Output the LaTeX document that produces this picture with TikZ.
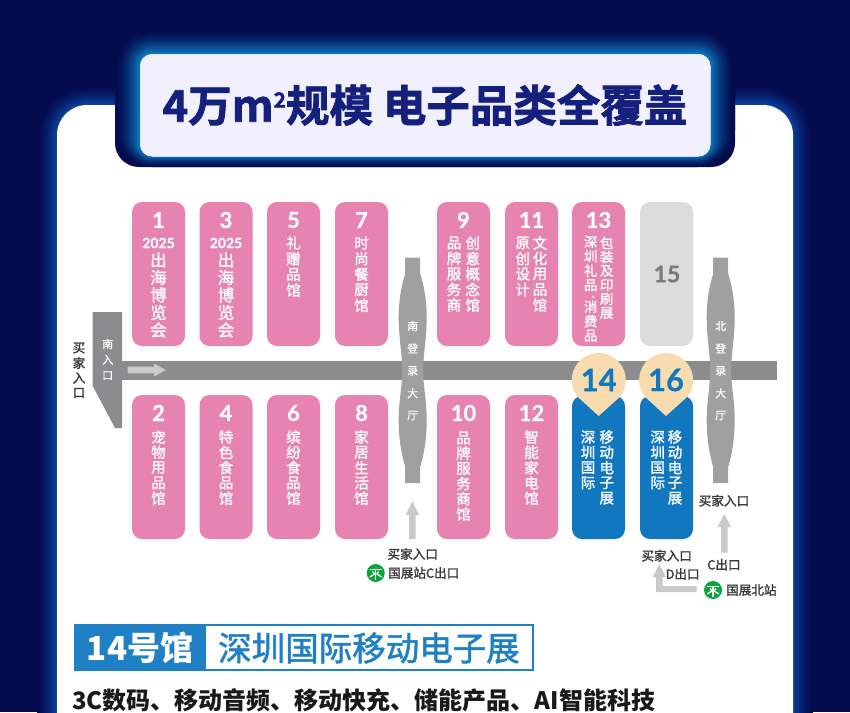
\documentclass[tikz,border=0pt]{standalone}
\usepackage{fontspec}
\setmainfont{Lato}
\newfontfamily\cjk{Noto Sans CJK SC}
\newfontfamily\cjkm[FakeBold=1.6]{Noto Sans CJK SC}
\newfontfamily\cjkl[FakeBold=0.8]{Noto Sans CJK SC}
\newfontfamily\cjkb[FakeBold=1.8]{Noto Sans CJK SC Bold}
\newfontfamily\lat{Lato Bold}[FakeBold=0.4]
\definecolor{bgnavy}{HTML}{040B4E}
\definecolor{glowb}{HTML}{0A3F9C}
\definecolor{glowc}{HTML}{0A78BE}
\definecolor{lightbox}{HTML}{F1F0FC}
\definecolor{titlec}{HTML}{14207C}
\definecolor{pinkh}{HTML}{E683B0}
\definecolor{blueh}{HTML}{1177BF}
\definecolor{greyh}{HTML}{DCDCDC}
\definecolor{corr}{HTML}{8C8C8E}
\definecolor{lobby}{HTML}{A0A0A0}
\definecolor{arr}{HTML}{C9CACA}
\definecolor{wheat}{HTML}{F8DCB0}
\definecolor{banner}{HTML}{2080C6}
\definecolor{txt}{HTML}{3A3A3A}
\definecolor{metro}{HTML}{0AA53C}
\newcommand{\fs}[1]{\fontsize{#1}{#1}\selectfont}
\tikzset{
  hall/.style={rounded corners=10pt,draw=none},
  num/.style={text=white,font=\fs{22}\lat,inner sep=0pt},
  ch/.style={text=white,font=\fs{14.5}\cjkm,inner sep=0pt},
  chb/.style={text=white,font=\fs{16.5}\cjkm,inner sep=0pt},
  chs/.style={text=white,font=\fs{13.5}\cjkm,inner sep=0pt},
  lob/.style={text=white,font=\fs{11}\cjkl,inner sep=0pt},
  lab/.style={text=txt,font=\fs{12.6}\cjkm,inner sep=0pt},
}
% vertical run of characters: x, first y, step, style, name, list
\newcommand{\vrun}[6]{%
  \foreach \c [count=\k from 0] in {#6} {
    \pgfmathsetmacro{\yy}{#2+\k*#3}
    \node[#4] (#5-\k) at (#1,\yy) {\c};
  }}
\newcommand{\metroicon}[3]{%
  \node[circle,fill=metro,minimum size=18pt,inner sep=0pt] (#3) at (#1,#2) {};
  \begin{scope}[shift={(#1,#2)},draw=white,line width=1.3pt]
    \draw (-6,-3.5) -- (6,-3.5);
    \draw (0,-3.5) -- (0,6.5);
    \draw (-3,-1.5) -- (-1,1);
    \draw (3,-1.5) -- (1,1);
    \draw (-6,4) -- (-1,1);
    \draw (6,4) -- (1,1);
  \end{scope}}
\newcommand{\lobbyshape}[1]{%
  \fill[lobby,shift={(#1,0)}] (-7.5,257.7) -- (7.5,257.7) -- (7.5,274)
    .. controls (11,284) and (14,300) .. (14,317)
    .. controls (14,340) and (10.5,352) .. (10.5,370)
    .. controls (10.5,388) and (14,400) .. (14,420)
    .. controls (14,440) and (11,455) .. (7.5,467)
    -- (7.5,483) -- (-7.5,483) -- (-7.5,467)
    .. controls (-11,455) and (-14,440) .. (-14,420)
    .. controls (-14,400) and (-10.5,388) .. (-10.5,370)
    .. controls (-10.5,352) and (-14,340) .. (-14,317)
    .. controls (-14,300) and (-11,284) .. (-7.5,274) -- cycle;}
\newcommand{\pinshape}[3]{%
  \fill[wheat] (#1,#2) ++(-21.2,16.7) arc[start angle=142,end angle=398,radius=27] -- (#1,416) -- cycle;
  \node[text=blueh,font=\fs{31}\lat,inner sep=0pt] (pin#3) at (#1,380) {#3};}
\begin{document}
\begin{tikzpicture}[x=1pt,y=-1pt]
\useasboundingbox (0,0) rectangle (850,712);
\clip (0,0) rectangle (850,712);
\fill[bgnavy] (0,0) rectangle (850,712);
% panel glow
\foreach \i in {0,...,19} {
  \pgfmathsetmacro{\dd}{20-\i}
  \pgfmathtruncatemacro{\mm}{100*((\i+1)/20)^1.6}
  \fill[glowb!\mm!bgnavy,rounded corners={30pt+\dd pt}] (57-\dd,105-\dd) rectangle (793+\dd,760);
}
\fill[white,rounded corners=30pt] (57,105) rectangle (793,760);
% header dark plate
\fill[bgnavy,rounded corners=24pt] (115,40) rectangle (735,167);
\foreach \i in {0,...,24} {
  \pgfmathsetmacro{\dd}{25-\i}
  \pgfmathtruncatemacro{\mm}{100*((\i+1)/25)^1.7}
  \fill[glowc!\mm!bgnavy,rounded corners={12pt+\dd pt}] (140-\dd,54-\dd) rectangle (710+\dd,156+\dd*0.44);
}
\node[fill=lightbox,rounded corners=12pt,minimum width=570pt,minimum height=102pt,inner sep=0pt,anchor=north west,
  draw=white,line width=.5pt] (titlebox) at (140,54) {};
\node[text=titlec,inner sep=0pt,font=\fs{43.5}\cjkb] (title) at (425,105) {4万m\raisebox{14pt}{\fs{21}2}规模 电子品类全覆盖};
% corridor
\fill[corr] (122,361) rectangle (776.7,380);
\fill[corr] (92.7,312) -- (122,312) -- (122,428) -- (115,428) -- (92.7,386) -- cycle;
\fill[arr] (127.7,366.7) -- (154,366.7) -- (154,363.5) -- (166,370) -- (154,376.5) -- (154,373.3) -- (127.7,373.3) -- cycle;
\vrun{107.7}{344}{15.8}{lob}{sin}{南,入,口}
\vrun{79}{348}{15}{lab}{buyw}{买,家,入,口}
% lobbies
\lobbyshape{412.7}
\lobbyshape{720.7}
\vrun{412.7}{326}{22.4}{lob}{sl}{南,登,录,大,厅}
\vrun{720.7}{326}{22.4}{lob}{nl}{北,登,录,大,厅}
% top row
\foreach \x/\n in {132/h1,199.5/h3,267/h5,335/h7,437/h9,505/h11,572/h13}
  \fill[pinkh,hall] (\x,202) rectangle ++(53,144);
\fill[greyh,hall] (640,202) rectangle ++(53,144);
% bottom row
\foreach \x/\n in {132/h2,199.5/h4,267/h6,335/h8,437/h10,505/h12}
  \fill[pinkh,hall] (\x,395) rectangle ++(53,144);
\fill[blueh,hall] (572,396) rectangle ++(53,143);
\fill[blueh,hall] (640,396) rectangle ++(53,143);
% numbers top
\foreach \t/\x in {1/158.5,3/226,5/293.5,7/361.5,9/463.5,11/531.5,13/598.5}
  \node[num] (n\t) at (\x,220) {\t};
\node[num,text=black!52,font=\fs{23}\lat] (n15) at (667,274) {15};
\foreach \t/\x in {2/158.5,4/226,6/293.5,8/361.5,10/463.5,12/531.5}
  \node[num] (n\t) at (\x,413) {\t};
% hall 1, 3
\foreach \x/\n in {158.5/a,226/b} {
  \node[text=white,font=\fs{14}\lat,inner sep=0pt] (yr\n) at (\x,243) {2025};
  \vrun{\x}{260}{17.5}{chb}{t\n}{出,海,博,览,会}
}
\vrun{293.5}{243}{15.7}{ch}{t5}{礼,赠,品,馆}
\vrun{361.5}{243}{15.6}{ch}{t7}{时,尚,餐,厨,馆}
\vrun{472.7}{243}{15.5}{ch}{t9a}{创,意,概,念,馆}
\vrun{454}{243}{15.5}{ch}{t9b}{品,牌,服,务,商}
\vrun{540}{243}{15.5}{ch}{t11a}{文,化,用,品,馆}
\vrun{522.7}{243}{15.5}{ch}{t11b}{原,创,设,计}
\vrun{606.7}{243}{14}{chs}{t13a}{包,装,及,印,刷,展}
\vrun{590.7}{241.7}{14.5}{chs}{t13b}{深,圳,礼,品}
\node[text=white,font=\fs{9}\cjkm,inner sep=0pt] (t13c) at (596,297) {、};
\vrun{590.7}{306.7}{14.5}{chs}{t13d}{消,费,品}
% bottom row text
\vrun{158.5}{437}{15.3}{ch}{t2}{宠,物,用,品,馆}
\vrun{226}{437}{15.3}{ch}{t4}{特,色,食,品,馆}
\vrun{293.5}{437}{15.3}{ch}{t6}{缤,纷,食,品,馆}
\vrun{361.5}{437}{15.3}{ch}{t8}{家,居,生,活,馆}
\vrun{463.5}{438}{15.2}{ch}{t10}{品,牌,服,务,商,馆}
\vrun{531.5}{437}{15.3}{ch}{t12}{智,能,家,电,馆}
\vrun{606.7}{437}{15.3}{ch}{t14a}{移,动,电,子,展}
\vrun{588}{437}{15.3}{ch}{t14b}{深,圳,国,际}
\vrun{675}{437}{15.3}{ch}{t16a}{移,动,电,子,展}
\vrun{657.7}{437}{15.3}{ch}{t16b}{深,圳,国,际}
% pins
\pinshape{598.7}{380}{14}
\pinshape{666}{380}{16}
% arrows
\fill[arr] (409,539) -- (409,515) -- (405.7,515) -- (412.3,501) -- (419,515) -- (415.7,515) -- (415.7,539) -- cycle;
\fill[arr] (721,552.7) -- (721,527) -- (717.5,527) -- (724.3,514) -- (731,527) -- (727.6,527) -- (727.6,552.7) -- cycle;
\fill[arr] (696.7,592) -- (656,592) -- (656,577) -- (652.7,577) -- (659.3,564) -- (666,577) -- (662.6,577) -- (662.6,586) -- (696.7,586) -- cycle;
% labels
\node[lab] (b1) at (412.7,554) {买家入口};
\node[lab,anchor=west] (b2) at (388,573) {国展站C出口};
\metroicon{375.7}{573}{m1}
\node[lab] (b3) at (666.7,555.7) {买家入口};
\node[lab] (b4) at (682.7,574) {D出口};
\metroicon{713}{590}{m2}
\node[lab,anchor=west] (b5) at (726,590) {国展北站};
\node[lab] (b6) at (724,564.7) {C出口};
\node[lab] (b7) at (724,500.7) {买家入口};
% banner
\fill[white] (74,624) rectangle (534,671);
\draw[banner,line width=2pt] (205,625) rectangle (533,670);
\fill[banner] (74,624) rectangle (205,671);
\node[text=white,font=\fs{33}\cjk\bfseries,inner sep=0pt] (ban1) at (140,648) {14号馆};
\node[text=banner,font=\fs{33.5}\cjkm,inner sep=0pt] (ban2) at (369,648) {深圳国际移动电子展};
\node[text=black!90,font=\fs{24}\cjk\bfseries,inner sep=0pt,anchor=west] (desc) at (72,700) {3C数码、移动音频、移动快充、储能产品、AI智能科技};
\end{tikzpicture}
\end{document}
